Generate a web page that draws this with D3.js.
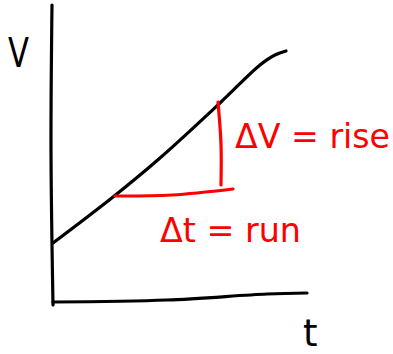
<!DOCTYPE html>
<html>
<head>
<meta charset="utf-8">
<script src="https://cdn.jsdelivr.net/npm/d3@7"></script>
<style>
  html, body { margin: 0; padding: 0; background: #fff; }
  svg { display: block; }
  text { font-family: "DejaVu Sans", sans-serif; }
</style>
</head>
<body>
<svg id="chart" width="393" height="354"></svg>
<script>
// Velocity vs time sketch (t, v in sketch units)
const velocityCurve = [
  [0.1, 5.9], [6.1, 10.5], [10.8, 14.4], [16.8, 19.9],
  [20.8, 23.7], [22.3, 24.7], [23.4, 25.1]
];
// Hand-drawn axes
const vAxisLine = [[0.1, -0.3], [-0.1, 15.2], [0.0, 29.7]];
const tAxisLine = [[0.1, 0.0], [11.5, 0.2], [21.5, 0.8], [25.5, 0.9]];
// Slope triangle: rise (Δv) and run (Δt)
const riseLine = [[16.6, 20.0], [16.9, 15.8], [16.9, 11.7]];
const runLine  = [[6.3, 10.6], [12.0, 10.7], [18.1, 11.3]];
// Labels
const axisLabels = [
  { text: "V", t: -4.4, v: 23.5, size: 41, len: 21 },
  { text: "t", t: 25.1, v: -4.4, size: 37, len: null }
];
const slopeLabels = [
  { text: "ΔV = rise", t: 18.3, v: 15.4, size: 33, len: 155 },
  { text: "Δt = run",  t: 10.8, v: 6.0,  size: 33, len: 141 }
];

const svg = d3.select("#chart");
const x = d3.scaleLinear().domain([0, 26]).range([52, 312]);
const y = d3.scaleLinear().domain([0, 30]).range([302, 2]);

const line = d3.line().x(d => x(d[0])).y(d => y(d[1])).curve(d3.curveCatmullRom);

function stroke(data, color) {
  svg.append("path")
    .datum(data)
    .attr("d", line)
    .attr("fill", "none")
    .attr("stroke", color)
    .attr("stroke-width", 3.2)
    .attr("stroke-linecap", "round")
    .attr("stroke-linejoin", "round");
}

stroke(vAxisLine, "#000");
stroke(tAxisLine, "#000");
stroke(velocityCurve, "#000");
stroke(riseLine, "#ff0000");
stroke(runLine, "#ff0000");

function label(d, color) {
  const t = svg.append("text")
    .attr("x", x(d.t))
    .attr("y", y(d.v))
    .attr("font-size", d.size)
    .attr("fill", color)
    .text(d.text);
  if (d.len) t.attr("textLength", d.len).attr("lengthAdjust", "spacingAndGlyphs");
}
axisLabels.forEach(d => label(d, "#000"));
slopeLabels.forEach(d => label(d, "#ff0000"));
</script>
</body>
</html>
